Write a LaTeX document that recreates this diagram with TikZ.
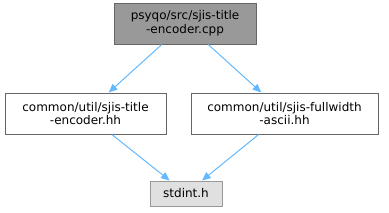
\documentclass[tikz,border=0pt]{standalone}
\usepackage{fontspec}
\setmainfont{DejaVu Sans}
\usetikzlibrary{arrows.meta}

\definecolor{edgeblue}{HTML}{63B8FF}
\definecolor{boxline}{HTML}{666666}
\definecolor{curfill}{HTML}{999999}
\definecolor{sysfill}{HTML}{E0E0E0}
\definecolor{sysline}{HTML}{999999}

\begin{document}
\begin{tikzpicture}[x=0.75pt,y=-0.75pt,line width=0.75pt,
  file/.style={draw=boxline,fill=white,inner sep=0pt,align=center,
    font=\fontsize{9pt}{10.3pt}\selectfont,minimum height=30.75pt},
  cur/.style={file,fill=curfill},
  sys/.style={file,draw=sysline,fill=sysfill,minimum height=18.75pt},
  dep/.style={->,draw=edgeblue,line width=0.75pt,>={Triangle[length=6.5pt,width=5.5pt]}}]
\useasboundingbox (0,0) rectangle (389,212);
% ================= files =================
\node[cur,minimum width=106.5pt] (encCpp) at (185,23.5)
  {psyqo/src/sjis-title\\-encoder.cpp};
\node[file,minimum width=120.75pt] (encHh) at (85.5,113.5)
  {common/util/sjis-title\\-encoder.hh};
\node[file,minimum width=140.25pt] (asciiHh) at (284.5,113.5)
  {common/util/sjis-fullwidth\\-ascii.hh};
\node[sys,minimum width=54pt] (stdint) at (186,193.5) {stdint.h};
% ================= includes =================
\draw[dep] (encCpp) -- (encHh);
\draw[dep] (encCpp) -- (asciiHh);
\draw[dep] (encHh) -- (stdint);
\draw[dep] (asciiHh) -- (stdint);
\end{tikzpicture}
\end{document}
